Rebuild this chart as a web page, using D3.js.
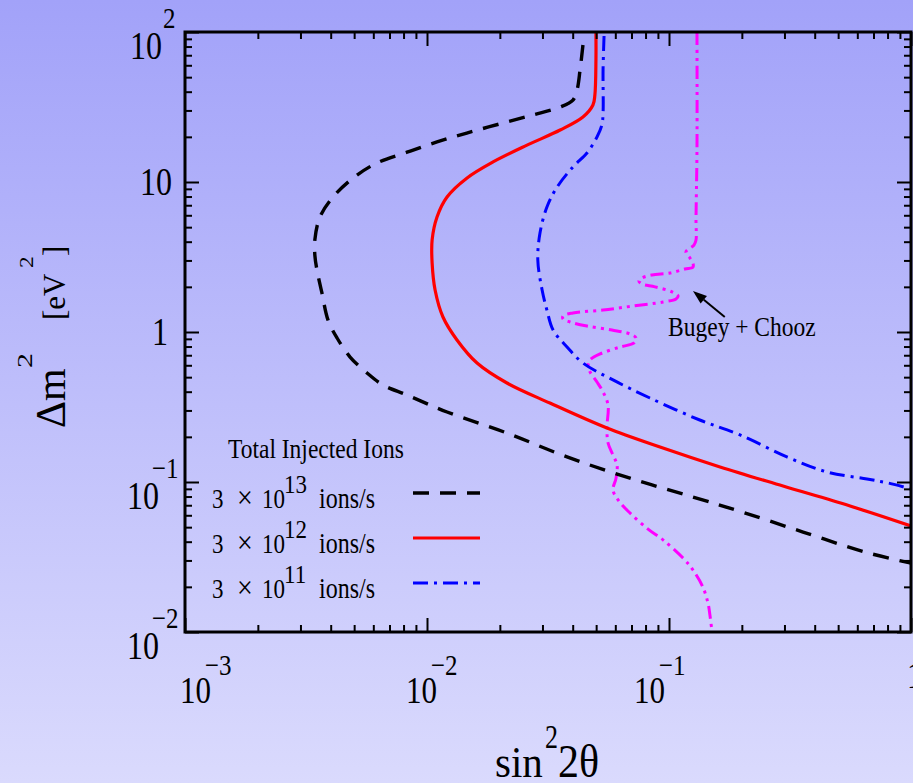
<!DOCTYPE html>
<html>
<head>
<meta charset="utf-8">
<script src="https://cdn.jsdelivr.net/npm/d3@7"></script>
<style>
  body { margin: 0; }
  svg { display: block; }
  text { font-family: "Liberation Serif", "Times New Roman", serif; fill: #000; }
</style>
</head>
<body>
<svg id="chart" width="913" height="783"></svg>
<script>
// curves: [sin^2 2theta, dm^2 (eV^2)]
const ions13 = [[0.0441,81.9],[0.0429,55.8],[0.0417,41.1],[0.0401,35.2],[0.0355,31.6],[0.0274,28.0],[0.0200,24.4],
  [0.0146,21.2],[0.0110,18.5],[0.00827,15.8],[0.00621,13.4],[0.00494,10.6],[0.00409,7.94],[0.00361,5.84],
  [0.00344,4.11],[0.00344,3.26],[0.00351,2.59],[0.00368,1.82],[0.00390,1.20],[0.00425,0.912],[0.00481,0.681],
  [0.00565,0.533],[0.00658,0.443],[0.00827,0.380],[0.0121,0.293],[0.0214,0.212],[0.0379,0.147],[0.0690,0.106],
  [0.1256,0.0794],[0.200,0.0631],[0.358,0.0464],[0.645,0.0341],[1.0,0.0288]];

const ions12 = [[0.0499,100],[0.0499,65.1],[0.0494,38.0],[0.0485,32.6],[0.0441,27.1],[0.0355,22.2],[0.0259,17.6],
  [0.01875,13.6],[0.0146,10.6],[0.0121,7.94],[0.0110,5.84],[0.0105,4.11],[0.0105,2.88],[0.0108,1.905],
  [0.01164,1.259],[0.0133,0.885],[0.0161,0.621],[0.0214,0.457],[0.0322,0.336],[0.0554,0.229],[0.0918,0.171],
  [0.1625,0.126],[0.296,0.094],[0.560,0.0692],[1.0,0.0509]];

const ions11 = [[0.0539,94],[0.0534,55.8],[0.0534,28.8],[0.0528,24.0],[0.0504,19.95],[0.0458,15.6],[0.0401,12.6],
  [0.0345,9.26],[0.0313,6.81],[0.0293,4.57],[0.0287,3.02],[0.0299,1.905],[0.0313,1.40],[0.0332,1.03],
  [0.0379,0.794],[0.0441,0.621],[0.0587,0.479],[0.0834,0.363],[0.134,0.259],[0.1966,0.206],[0.307,0.147],
  [0.450,0.1166],[0.658,0.1047],[0.804,0.0985],[1.0,0.0898]];

const bugeyChooz = [[0.1305,100],[0.1305,16.3],[0.1293,5.58],[0.1293,4.11],[0.1268,3.80],[0.1175,3.42],[0.1221,3.11],
  [0.1256,2.88],[0.1256,2.71],[0.1164,2.63],[0.1009,2.47],[0.0851,2.40],[0.0773,2.29],[0.0751,2.19],[0.0773,2.09],
  [0.0875,2.00],[0.1029,1.85],[0.109,1.74],[0.1069,1.66],[0.0945,1.585],[0.0710,1.49],[0.0534,1.40],[0.0401,1.34],
  [0.0365,1.28],[0.0365,1.22],[0.0390,1.166],[0.0458,1.096],[0.0581,1.03],[0.0690,0.970],[0.0731,0.912],
  [0.0717,0.845],[0.0628,0.794],[0.0519,0.714],[0.0472,0.651],[0.0463,0.593],[0.0472,0.541],[0.0504,0.464],
  [0.0534,0.398],[0.0560,0.326],[0.0554,0.229],[0.0560,0.182],[0.0587,0.151],[0.0610,0.130],[0.0604,0.106],
  [0.0587,0.0885],[0.0616,0.0759],[0.0690,0.0621],[0.0827,0.0479],[0.0945,0.0411],[0.1143,0.0311],
  [0.1256,0.0259],[0.138,0.01995],[0.1449,0.0156],[0.1476,0.01298],[0.1506,0.0100]];

const legendTitle = "Total Injected Ions";
const legendExp = ["13", "12", "11"];

const xTickVals = [1e-3, 1e-2, 1e-1, 1];
const xTickBase = ["10", "10", "10", "1"];
const xTickExp = ["\u22123", "\u22122", "\u22121", ""];
const yTickVals = [100, 10, 1, 0.1, 0.01];
const yTickBase = ["10", "10", "1", "10", "10"];
const yTickExp = ["2", "", "", "\u22121", "\u22122"];

const arrowTip = [0.1256, 1.88];
const arrowTail = [0.170, 1.26];
const noteText = "Bugey + Chooz";
const notePos = [0.0991, 0.94];

// --- setup
const svg = d3.select("#chart");
const W = 913, H = 783;
const L = 185, R = 911, T = 32, B = 632;

const x = d3.scaleLog().domain([1e-3, 1]).range([L, R]);
const y = d3.scaleLog().domain([1e-2, 1e2]).range([B, T]);

const defs = svg.append("defs");
const grad = defs.append("linearGradient").attr("id", "bg").attr("x1", 0).attr("y1", 0).attr("x2", 0).attr("y2", 1);
grad.append("stop").attr("offset", "0%").attr("stop-color", "#a2a2f9");
grad.append("stop").attr("offset", "100%").attr("stop-color", "#dadafd");
defs.append("clipPath").attr("id", "plotclip")
  .append("rect").attr("x", L).attr("y", T).attr("width", R - L).attr("height", B - T);

svg.append("rect").attr("width", W).attr("height", H).attr("fill", "url(#bg)");

// curves
const line = d3.line()
  .x(d => x(d[0]))
  .y(d => y(d[1]))
  .curve(d3.curveCatmullRom.alpha(0.5));

const styles = [
  { data: ions13, color: "#000000", dash: "16,11", width: 3.4 },
  { data: ions12, color: "#ff0000", dash: null, width: 3.2 },
  { data: ions11, color: "#0000ff", dash: "15,6,3,6", width: 3.0 },
];

const curves = svg.append("g").attr("clip-path", "url(#plotclip)");
curves.append("path")
  .attr("d", line(bugeyChooz))
  .attr("fill", "none")
  .attr("stroke", "#ff00ff")
  .attr("stroke-width", 3)
  .attr("stroke-dasharray", "13,5,3,5,3,5");

styles.forEach(s => {
  curves.append("path")
    .attr("d", line(s.data))
    .attr("fill", "none")
    .attr("stroke", s.color)
    .attr("stroke-width", s.width)
    .attr("stroke-dasharray", s.dash);
});

// axes: ticks inward on all four sides
const minorX = [], minorY = [];
[1e-3, 1e-2, 1e-1].forEach(d => { for (let k = 2; k <= 9; k++) minorX.push(d * k); });
[1e-2, 1e-1, 1, 10].forEach(d => { for (let k = 2; k <= 9; k++) minorY.push(d * k); });

function drawAxis(axisFn, scale, vals, size, tr) {
  const g = svg.append("g").attr("transform", tr)
    .call(axisFn(scale).tickValues(vals).tickSize(-size).tickFormat(""));
  g.select(".domain").remove();
  g.selectAll(".tick line").attr("stroke", "#000").attr("stroke-width", 2);
}
drawAxis(d3.axisBottom, x, minorX, 7, `translate(0,${B})`);
drawAxis(d3.axisBottom, x, xTickVals, 14, `translate(0,${B})`);
drawAxis(d3.axisTop, x, minorX, 7, `translate(0,${T})`);
drawAxis(d3.axisTop, x, xTickVals, 14, `translate(0,${T})`);
drawAxis(d3.axisLeft, y, minorY, 7, `translate(${L},0)`);
drawAxis(d3.axisLeft, y, yTickVals, 14, `translate(${L},0)`);
drawAxis(d3.axisRight, y, minorY, 7, `translate(${R},0)`);
drawAxis(d3.axisRight, y, yTickVals, 14, `translate(${R},0)`);

svg.append("rect")
  .attr("x", L).attr("y", T).attr("width", R - L).attr("height", B - T)
  .attr("fill", "none").attr("stroke", "#000").attr("stroke-width", 3);

// text helper (the picture's type is stretched vertically)
function addText(str, px, py, size, sy, anchor) {
  return svg.append("text")
    .attr("transform", `translate(${px},${py}) scale(1,${sy})`)
    .attr("font-size", size)
    .attr("text-anchor", anchor || "start")
    .text(str);
}

// x tick labels
const xShift = [-5, -21, -35, -4];
xTickVals.forEach((v, i) => {
  const left = x(v) + xShift[i];
  if (xTickExp[i]) {
    addText(xTickBase[i], left, 703, 31, 1.25);
    addText(xTickExp[i], left + 25, 675, 25, 1.2);
  } else {
    addText(xTickBase[i], left, 688, 31, 1.25);
  }
});

// y tick labels
yTickVals.forEach((v, i) => {
  const ty = y(v);
  if (yTickExp[i]) {
    const startX = yTickExp[i] === "2" ? 130 : 127;
    addText(yTickBase[i], startX, ty + 27, 32, 1.25);
    addText(yTickExp[i], yTickExp[i] === "2" ? 163 : 152, ty - 4, 25, 1.2);
  } else {
    addText(yTickBase[i], yTickBase[i] === "1" ? 168 : 172, ty + 13, 32, 1.25, "end");
  }
});

// axis titles
addText("sin", 495, 777, 41, 1.1);
addText("2", 545, 748, 26, 1.3);
addText("2\u03b8", 558, 777, 42, 1.1);

const yl = svg.append("g").attr("transform", "translate(65,428) rotate(-90)");
yl.append("text").attr("font-size", 42).attr("x", 0).attr("y", 0).text("\u0394m");
yl.append("text").attr("font-size", 20).attr("transform", "translate(60,-33) scale(1.5,1)").text("2");
yl.append("text").attr("font-size", 31).attr("x", 108).attr("y", 0).text("[eV");
yl.append("text").attr("font-size", 18).attr("transform", "translate(160,-32) scale(1.3,1)").text("2");
yl.append("text").attr("font-size", 31).attr("x", 172).attr("y", 0).text("]");

// legend
addText(legendTitle, 228, 458, 23.5, 1.13);
styles.forEach((s, i) => {
  const by = 508 + 45 * i;
  addText("3", 212, by, 23, 1.22);
  addText("\u00d7", 237, by, 28, 1.15);
  addText("10", 262, by, 23, 1.22);
  addText(legendExp[i], 284, by - 15, 23, 1.08);
  addText("ions/s", 319, by, 24, 1.22);
  svg.append("line")
    .attr("x1", 413).attr("x2", 480)
    .attr("y1", by - 15).attr("y2", by - 15)
    .attr("stroke", s.color)
    .attr("stroke-width", s.width)
    .attr("stroke-dasharray", s.dash);
});

// annotation arrow
const tip = [x(arrowTip[0]), y(arrowTip[1])];
const tail = [x(arrowTail[0]), y(arrowTail[1])];
const dx = tip[0] - tail[0], dy = tip[1] - tail[1];
const len = Math.hypot(dx, dy);
const ux = dx / len, uy = dy / len;
const hl = 14, hw = 5;
const bx = tip[0] - ux * hl, by = tip[1] - uy * hl;
svg.append("line")
  .attr("x1", tail[0]).attr("y1", tail[1]).attr("x2", bx).attr("y2", by)
  .attr("stroke", "#000").attr("stroke-width", 2);
svg.append("polygon")
  .attr("points", [tip, [bx - uy * hw, by + ux * hw], [bx + uy * hw, by - ux * hw]].map(p => p.join(",")).join(" "))
  .attr("fill", "#000");
addText(noteText, x(notePos[0]), y(notePos[1]), 23.5, 1.13);
</script>
</body>
</html>
